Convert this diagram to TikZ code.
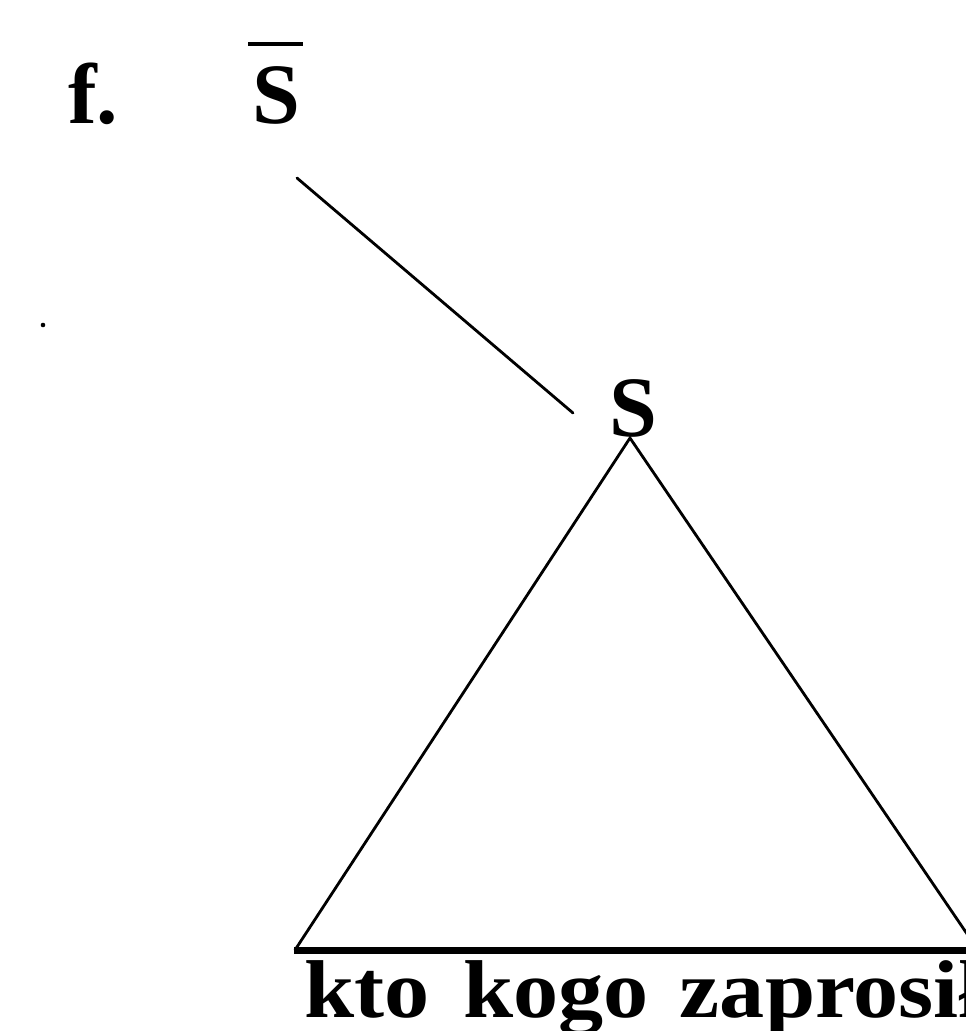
\documentclass[tikz,border=0pt]{standalone}
\usepackage{fontspec}
\setmainfont{Liberation Serif}
\newfontfamily\widefont[FakeStretch=1.1]{Liberation Serif}
\begin{document}
\begin{tikzpicture}[x=1pt,y=-1pt,
  lab/.style={inner sep=0pt,font=\fontsize{86}{90}\selectfont\bfseries},
  words/.style={inner sep=0pt,font=\widefont\fontsize{82}{86}\selectfont\bfseries},
  edge/.style={line width=2.8pt,line cap=round},
  basebar/.style={line width=7pt}]
\useasboundingbox (0,0) rectangle (966,1031);
\clip (0,0) rectangle (966,1031);
\node[lab,anchor=base west] (f) at (68,123) {f.};
\node[lab,anchor=base] (sbar) at (276,123) {S};
\draw[line width=4.5pt] ([xshift=-28pt,yshift=22pt]sbar.north) coordinate (b1) -- ([xshift=27pt,yshift=22pt]sbar.north) coordinate (b2);
\node[lab,anchor=base] (s) at (633,436) {S};
\coordinate (l1) at (297,178);
\coordinate (l2) at (573,413);
\draw[edge] (l1) -- (l2);
\coordinate (apex) at (630,438);
\coordinate (left) at (295,950);
\coordinate (right) at (978,950);
\draw[edge] (left) -- (apex) -- (right);
\draw[basebar] ([xshift=-1pt]left) -- (right);
\node[words,anchor=base west] (t) at (304,1017) {kto\hspace{34pt}kogo\hspace{31pt}zaprosił};
\fill (43,325) coordinate (dot) circle (2.3pt);
\end{tikzpicture}
\end{document}
